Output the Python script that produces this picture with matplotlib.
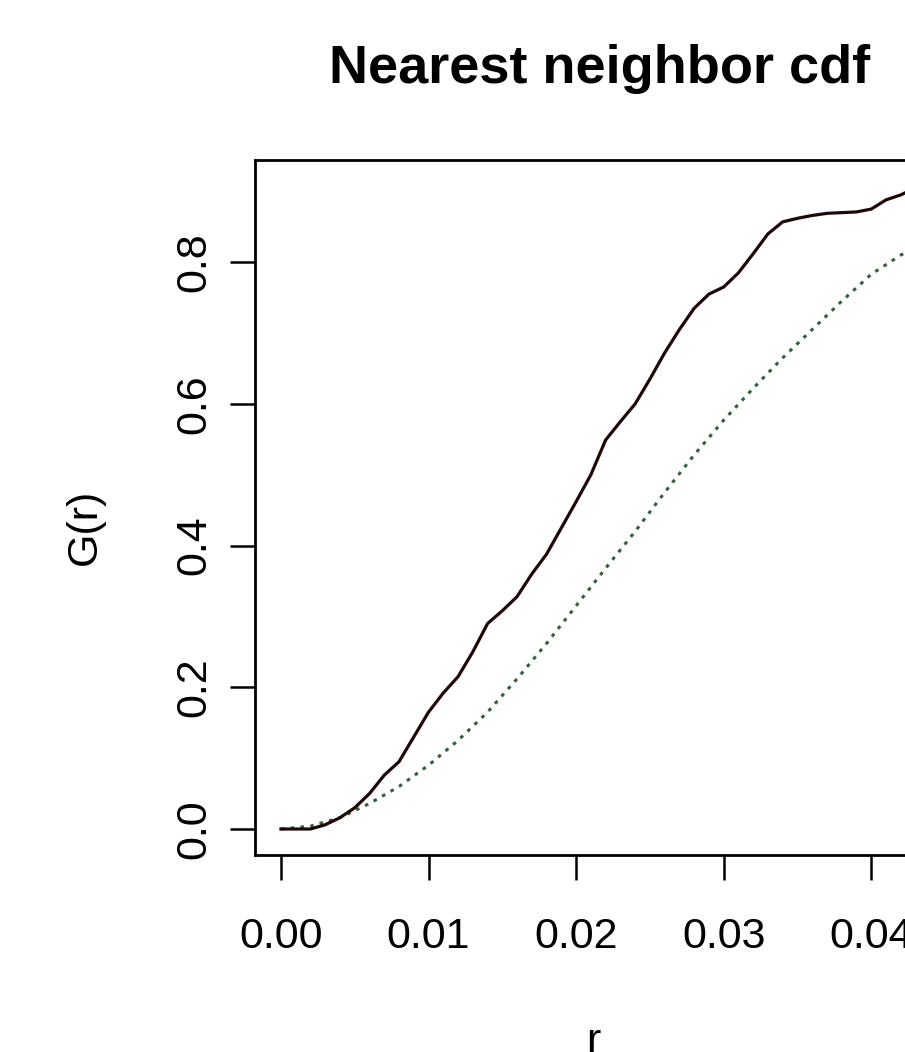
import matplotlib
matplotlib.use("Agg")
import matplotlib.pyplot as plt

plt.rcParams['font.family'] = ['Liberation Sans', 'DejaVu Sans']

r_obs = [0.000, 0.001, 0.002, 0.003, 0.004, 0.005, 0.006, 0.007, 0.008, 0.009,
         0.010, 0.011, 0.012, 0.013, 0.014, 0.015, 0.016, 0.017, 0.018, 0.019,
         0.020, 0.021, 0.022, 0.023, 0.024, 0.025, 0.026, 0.027, 0.028, 0.029,
         0.030, 0.031, 0.032, 0.033, 0.034, 0.035, 0.036, 0.037, 0.038, 0.039,
         0.040, 0.041, 0.042, 0.043]
g_obs = [0.000, 0.000, 0.000, 0.006, 0.016, 0.030, 0.050, 0.076, 0.095, 0.130,
         0.165, 0.192, 0.215, 0.250, 0.290, 0.308, 0.328, 0.360, 0.388, 0.425,
         0.462, 0.500, 0.549, 0.575, 0.600, 0.635, 0.672, 0.705, 0.735, 0.755,
         0.765, 0.785, 0.812, 0.840, 0.857, 0.862, 0.866, 0.869, 0.870, 0.871,
         0.875, 0.888, 0.895, 0.905]

# theoretical (Poisson) curve
r_theo = [0.000, 0.002, 0.004, 0.006, 0.008, 0.010, 0.012, 0.014, 0.016, 0.018,
          0.020, 0.022, 0.024, 0.026, 0.028, 0.030, 0.032, 0.034, 0.036, 0.038,
          0.040, 0.042, 0.044]
g_theo = [0.000, 0.004, 0.016, 0.036, 0.060, 0.090, 0.125, 0.165, 0.212, 0.262,
          0.315, 0.368, 0.420, 0.475, 0.528, 0.577, 0.622, 0.665, 0.705, 0.745,
          0.783, 0.810, 0.835]

x_ticks = [0.00, 0.01, 0.02, 0.03, 0.04]
x_labels = ["0.00", "0.01", "0.02", "0.03", "0.04"]
y_ticks = [0.0, 0.2, 0.4, 0.6, 0.8]
y_labels = ["0.0", "0.2", "0.4", "0.6", "0.8"]

W, H = 905, 1052
fig = plt.figure(figsize=(W / 100, H / 100), dpi=100)
ax = fig.add_axes([255 / W, (H - 855) / H, (945 - 255) / W, (855 - 160) / H])

ax.plot(r_theo, g_theo, color='#33613b', lw=2.2, linestyle=(0, (1.2, 2.0)))
ax.plot(r_obs, g_obs, color='#1f0707', lw=2.3)

ax.set_xlim(-0.00176, 0.0450)
ax.set_ylim(-0.0367, 0.9443)

ax.set_xticks(x_ticks)
ax.set_xticklabels(x_labels)
ax.set_yticks(y_ticks)
ax.set_yticklabels(y_labels, rotation=90, va='center')
ax.tick_params(axis='both', length=18, width=1.8, labelsize=31, color='black')
ax.tick_params(axis='x', pad=27)
ax.tick_params(axis='y', pad=11)
for s in ax.spines.values():
    s.set_linewidth(2.0)

fig.text(600 / W, 1 - 83 / H, "Nearest neighbor cdf", ha='center', va='baseline',
         fontsize=39, fontweight='bold')
fig.text(85 / W, 1 - 527 / H, "G(r)", ha='center', va='center', rotation=90,
         fontsize=31)
fig.text(593 / W, -0.001, "r", ha='center', va='baseline', fontsize=31)

fig.savefig("out.png", dpi=100)
